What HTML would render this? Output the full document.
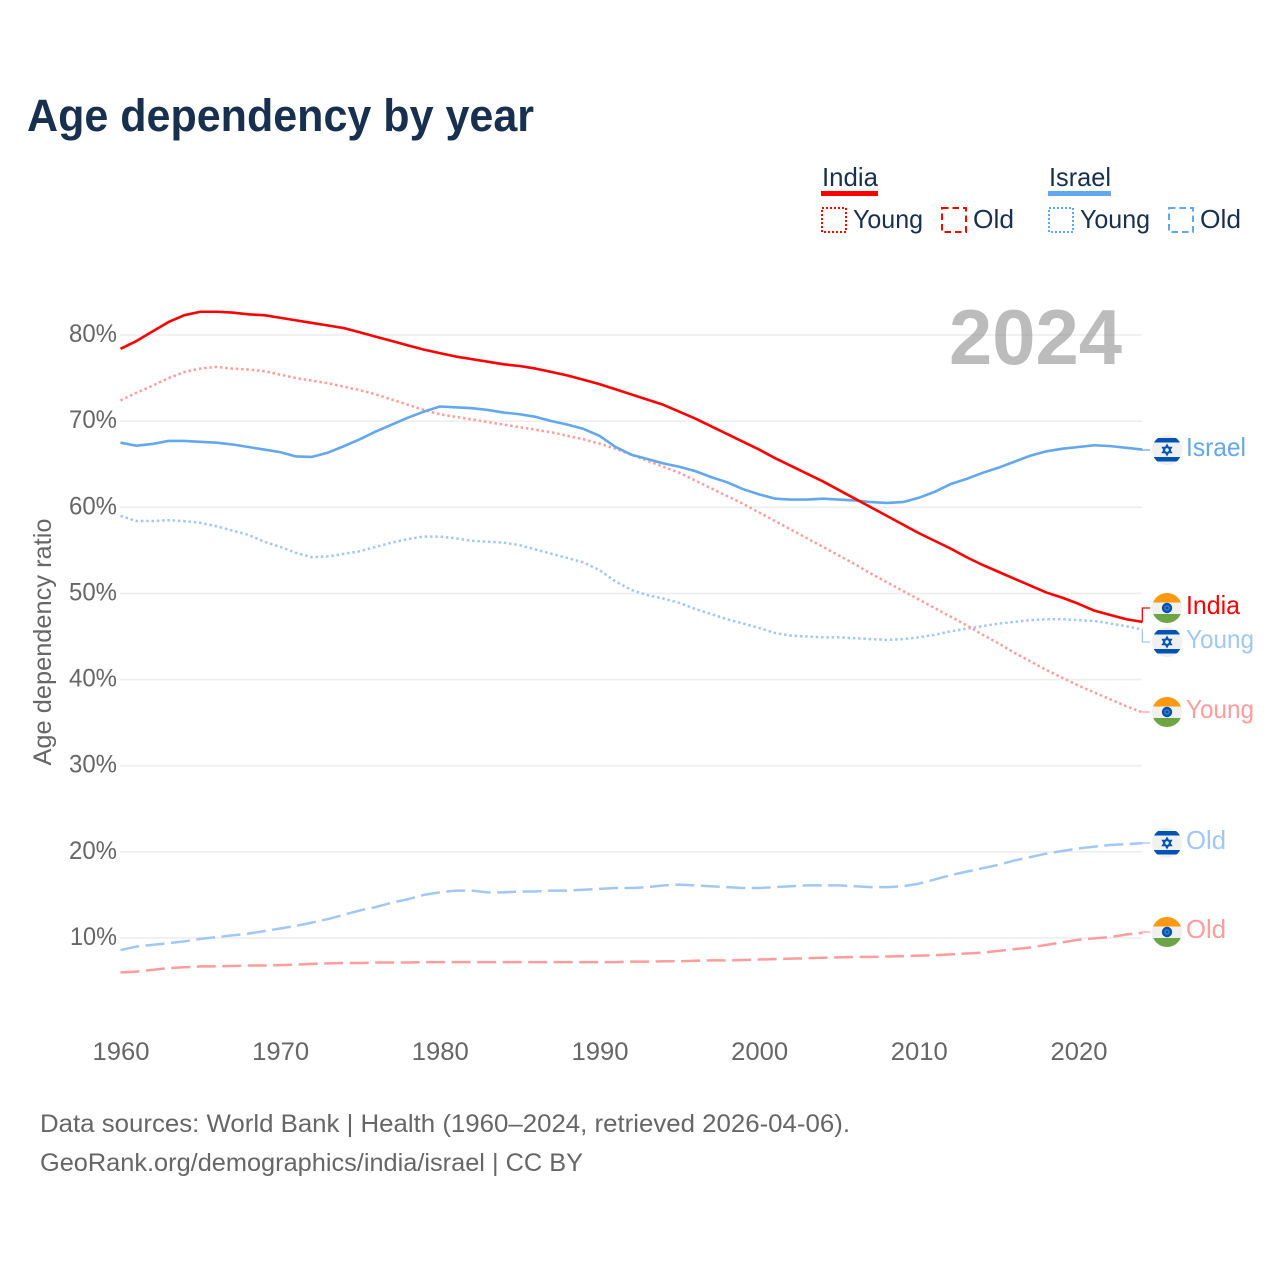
<!DOCTYPE html>
<html lang="en">
<head>
<meta charset="utf-8">
<title>Age dependency by year</title>
<style>
html,body{margin:0;padding:0;background:#fff;}
body{width:1280px;height:1280px;overflow:hidden;}
svg{display:block;font-family:"Liberation Sans",sans-serif;}
</style>
</head>
<body>
<svg id="chart" xmlns="http://www.w3.org/2000/svg" width="1280" height="1280" viewBox="0 0 1280 1280">
  <defs>
    <clipPath id="flag-clip"><circle cx="0" cy="0" r="15"/></clipPath>
    <symbol id="flag-in" overflow="visible" viewBox="-16 -16 32 32" width="32" height="32">
      <g clip-path="url(#flag-clip)">
        <rect x="-15" y="-15" width="30" height="30" fill="#f0f0f0"/>
        <rect x="-15" y="-15" width="30" height="9.5" fill="#ff9811"/>
        <rect x="-15" y="6" width="30" height="9.5" fill="#6da544"/>
        <circle cx="0" cy="0" r="5.2" fill="#0052b4"/>
        <circle cx="0" cy="0" r="2.8" fill="#3f78c4"/>
        <circle cx="0" cy="0" r="1.3" fill="#0052b4"/>
      </g>
    </symbol>
    <symbol id="flag-il" overflow="visible" viewBox="-16 -16 32 32" width="32" height="32">
      <g clip-path="url(#flag-clip)">
        <rect x="-15" y="-15" width="30" height="30" fill="#f0f0f0"/>
        <rect x="-15" y="-12" width="30" height="4.5" fill="#0052b4"/>
        <rect x="-15" y="7" width="30" height="4.5" fill="#0052b4"/>
        <polygon points="0,-5 4.3,2.5 -4.3,2.5" fill="none" stroke="#0052b4" stroke-width="1.5"/>
        <polygon points="0,5 4.3,-2.5 -4.3,-2.5" fill="none" stroke="#0052b4" stroke-width="1.5"/>
      </g>
    </symbol>
  </defs>

  <rect x="0" y="0" width="1280" height="1280" fill="#ffffff"/>

  <text x="27" y="131" font-size="45" font-weight="700" fill="#18304f" textLength="507" lengthAdjust="spacingAndGlyphs">Age dependency by year</text>

  <g>
    <text x="822" y="186" font-size="26" fill="#18304f" textLength="56" lengthAdjust="spacingAndGlyphs">India</text>
    <rect x="821" y="191" width="57" height="5" fill="#ff0000"/>
    <rect x="822" y="208" width="24" height="24" fill="none" stroke="#ff0000" stroke-width="2" stroke-dasharray="2 2"/>
    <text x="853" y="228" font-size="26" fill="#18304f" textLength="70" lengthAdjust="spacingAndGlyphs">Young</text>
    <rect x="942" y="208" width="24" height="24" fill="none" stroke="#ff0000" stroke-width="2" stroke-dasharray="6.5 4"/>
    <text x="973" y="228" font-size="26" fill="#18304f" textLength="41" lengthAdjust="spacingAndGlyphs">Old</text>

    <text x="1049" y="186" font-size="26" fill="#18304f" textLength="62" lengthAdjust="spacingAndGlyphs">Israel</text>
    <rect x="1048" y="191" width="63" height="5" fill="#63a7ec"/>
    <rect x="1049" y="208" width="24" height="24" fill="none" stroke="#63a7ec" stroke-width="2" stroke-dasharray="2 2"/>
    <text x="1080" y="228" font-size="26" fill="#18304f" textLength="70" lengthAdjust="spacingAndGlyphs">Young</text>
    <rect x="1169" y="208" width="24" height="24" fill="none" stroke="#63a7ec" stroke-width="2" stroke-dasharray="6.5 4"/>
    <text x="1200" y="228" font-size="26" fill="#18304f" textLength="41" lengthAdjust="spacingAndGlyphs">Old</text>
  </g>

  <g id="grid"></g>
  <g id="yticks"></g>
  <g id="xticks"></g>

  <text transform="translate(51,642) rotate(-90)" text-anchor="middle" font-size="25" fill="#666666" textLength="247" lengthAdjust="spacingAndGlyphs">Age dependency ratio</text>

  <text x="949" y="364" font-size="78" font-weight="700" fill="#7a7a7a" fill-opacity="0.5" textLength="173" lengthAdjust="spacingAndGlyphs">2024</text>

  <g id="series"></g>
  <g id="labels"></g>

  <text x="40" y="1132" font-size="25" fill="#666666" textLength="810" lengthAdjust="spacingAndGlyphs">Data sources: World Bank | Health (1960–2024, retrieved 2026-04-06).</text>
  <text x="40" y="1171" font-size="25" fill="#666666" textLength="543" lengthAdjust="spacingAndGlyphs">GeoRank.org/demographics/india/israel | CC BY</text>
</svg>

<script>
const startYear = 1960;
const gridValues = [10, 20, 30, 40, 50, 60, 70, 80];
const xTickYears = [1960, 1970, 1980, 1990, 2000, 2010, 2020];

const indiaTotal = [
  78.4,79.3,80.4,81.5,82.3,82.7,82.7,82.6,82.4,82.3,
  82.0,81.7,81.4,81.1,80.8,80.3,79.8,79.3,78.8,78.3,
  77.9,77.5,77.2,76.9,76.6,76.4,76.1,75.7,75.3,74.8,
  74.3,73.7,73.1,72.5,71.9,71.1,70.3,69.4,68.5,67.6,
  66.7,65.7,64.8,63.9,63.0,62.0,61.0,60.0,59.0,58.0,
  57.0,56.1,55.2,54.2,53.3,52.5,51.7,50.9,50.1,49.5,
  48.8,48.0,47.5,47.0,46.7
];
const indiaYoung = [
  72.4,73.3,74.1,75.0,75.7,76.1,76.3,76.1,76.0,75.8,
  75.4,75.0,74.7,74.4,74.0,73.6,73.1,72.5,71.9,71.3,
  70.8,70.5,70.2,69.9,69.6,69.3,69.0,68.7,68.3,67.9,
  67.4,66.8,66.1,65.4,64.7,64.0,63.1,62.2,61.3,60.4,
  59.4,58.4,57.4,56.4,55.4,54.4,53.4,52.3,51.3,50.3,
  49.3,48.3,47.3,46.3,45.2,44.2,43.1,42.1,41.1,40.2,
  39.3,38.5,37.7,36.9,36.2
];
const indiaOld = [
  6.0,6.1,6.3,6.5,6.6,6.7,6.7,6.75,6.8,6.8,
  6.85,6.9,7.0,7.05,7.1,7.1,7.15,7.15,7.15,7.2,
  7.2,7.2,7.2,7.2,7.2,7.2,7.2,7.2,7.2,7.2,
  7.2,7.2,7.25,7.25,7.3,7.3,7.35,7.4,7.4,7.45,
  7.5,7.55,7.6,7.65,7.7,7.75,7.8,7.8,7.85,7.9,
  7.95,8.0,8.1,8.2,8.3,8.5,8.7,8.9,9.2,9.5,
  9.8,9.95,10.1,10.4,10.6
];
const israelTotal = [
  67.5,67.15,67.35,67.7,67.7,67.6,67.5,67.3,67.0,66.7,
  66.4,65.9,65.85,66.35,67.1,67.9,68.8,69.6,70.4,71.1,
  71.7,71.6,71.5,71.3,71.0,70.8,70.5,70.0,69.6,69.1,
  68.3,67.0,66.1,65.6,65.1,64.7,64.2,63.5,62.9,62.1,
  61.5,61.0,60.9,60.9,61.0,60.9,60.8,60.6,60.5,60.6,
  61.1,61.8,62.7,63.3,64.0,64.6,65.3,66.0,66.5,66.8,
  67.0,67.2,67.1,66.9,66.7
];
const israelYoung = [
  59.0,58.4,58.4,58.5,58.4,58.2,57.8,57.3,56.8,56.0,
  55.4,54.7,54.2,54.3,54.6,54.9,55.4,55.9,56.3,56.6,
  56.6,56.4,56.1,56.0,55.9,55.6,55.1,54.6,54.1,53.6,
  52.7,51.4,50.4,49.8,49.4,48.9,48.2,47.6,47.0,46.5,
  46.0,45.4,45.1,45.0,44.9,44.9,44.8,44.7,44.6,44.7,
  44.9,45.2,45.6,45.9,46.2,46.5,46.7,46.9,47.0,47.0,
  46.9,46.8,46.5,46.2,45.8
];
const israelOld = [
  8.6,9.0,9.2,9.4,9.6,9.9,10.1,10.3,10.5,10.8,
  11.1,11.4,11.8,12.2,12.7,13.2,13.6,14.1,14.5,15.0,
  15.3,15.5,15.5,15.3,15.3,15.4,15.4,15.5,15.5,15.6,
  15.7,15.8,15.8,15.9,16.1,16.2,16.1,16.0,15.9,15.8,
  15.8,15.9,16.0,16.1,16.1,16.1,16.0,15.9,15.9,16.0,
  16.3,16.8,17.3,17.7,18.1,18.5,19.0,19.4,19.8,20.1,
  20.4,20.6,20.8,20.9,21.0
];

const NS = 'http://www.w3.org/2000/svg';
function xScale(year) { return 120.5 + (year - 1960) * 15.966; }
function yScale(value) { return 335 + (80 - value) * 8.614; }
function make(tag, attrs, parent) {
  const el = document.createElementNS(NS, tag);
  for (const k in attrs) el.setAttribute(k, attrs[k]);
  parent.appendChild(el);
  return el;
}

const gridG = document.getElementById('grid');
const yG = document.getElementById('yticks');
const xG = document.getElementById('xticks');
const seriesG = document.getElementById('series');
const labelsG = document.getElementById('labels');

gridValues.forEach(function (v) {
  const line = make('line', {x1: 120, x2: 1142, y1: yScale(v), y2: yScale(v), stroke: '#eeeeee', 'stroke-width': 1.6}, gridG);
  
  
  const t = make('text', {x: 117, y: yScale(v) + 7, 'text-anchor': 'end', 'font-size': 25, fill: '#666666', textLength: v === 10 ? 47 : 48, lengthAdjust: 'spacingAndGlyphs'}, yG);
  t.textContent = v + '%';
  
  
});

xTickYears.forEach(function (yr) {
  const t = make('text', {x: xScale(yr) + 0.5, y: 1060, 'text-anchor': 'middle', 'font-size': 25, fill: '#666666', textLength: 57, lengthAdjust: 'spacingAndGlyphs'}, xG);
  t.textContent = yr;
  
  
});

function drawSeries(values, name, color, width, dash, labelText, labelY, flag, textW) {
  const d = values.map(function (v, i) {
    return (i ? 'L' : 'M') + xScale(startYear + i).toFixed(2) + ' ' + yScale(v).toFixed(2);
  }).join('');
  const attrs = {d: d, fill: 'none', stroke: color, 'stroke-width': width, 'stroke-linejoin': 'round'};
  if (dash) attrs['stroke-dasharray'] = dash;
  const path = make('path', attrs, seriesG);
  
  

  const endX = xScale(startYear + values.length - 1);
  const endY = yScale(values[values.length - 1]);
  const conn = make('path', {d: 'M' + endX + ' ' + endY + 'V' + labelY + 'H1150', fill: 'none', stroke: color, 'stroke-width': 1.3}, labelsG);
  
  

  const f = make('use', {href: '#flag-' + flag, x: 1151, y: labelY - 16, width: 32, height: 32}, labelsG);
  
  

  const t = make('text', {x: 1186, y: labelY + 6, 'font-size': 26, fill: color, textLength: textW, lengthAdjust: 'spacingAndGlyphs'}, labelsG);
  t.textContent = labelText;
  
  
}

const dotted = '2.5 2.8';
const dashed = '19 6.5';
drawSeries(israelOld, 'israel-old', '#a1c8f3', 2.5, dashed, 'Old', 843, 'il', 40);
drawSeries(indiaOld, 'india-old', '#ff9c9c', 2.5, dashed, 'Old', 932, 'in', 40);
drawSeries(israelYoung, 'israel-young', '#a1c8f3', 2.5, dotted, 'Young', 642, 'il', 68);
drawSeries(indiaYoung, 'india-young', '#ff9c9c', 2.5, dotted, 'Young', 712, 'in', 68);
drawSeries(israelTotal, 'israel-total', '#63a7ec', 2.6, null, 'Israel', 450, 'il', 60);
drawSeries(indiaTotal, 'india-total', '#ff0000', 2.6, null, 'India', 608, 'in', 54);
</script>
</body>
</html>
